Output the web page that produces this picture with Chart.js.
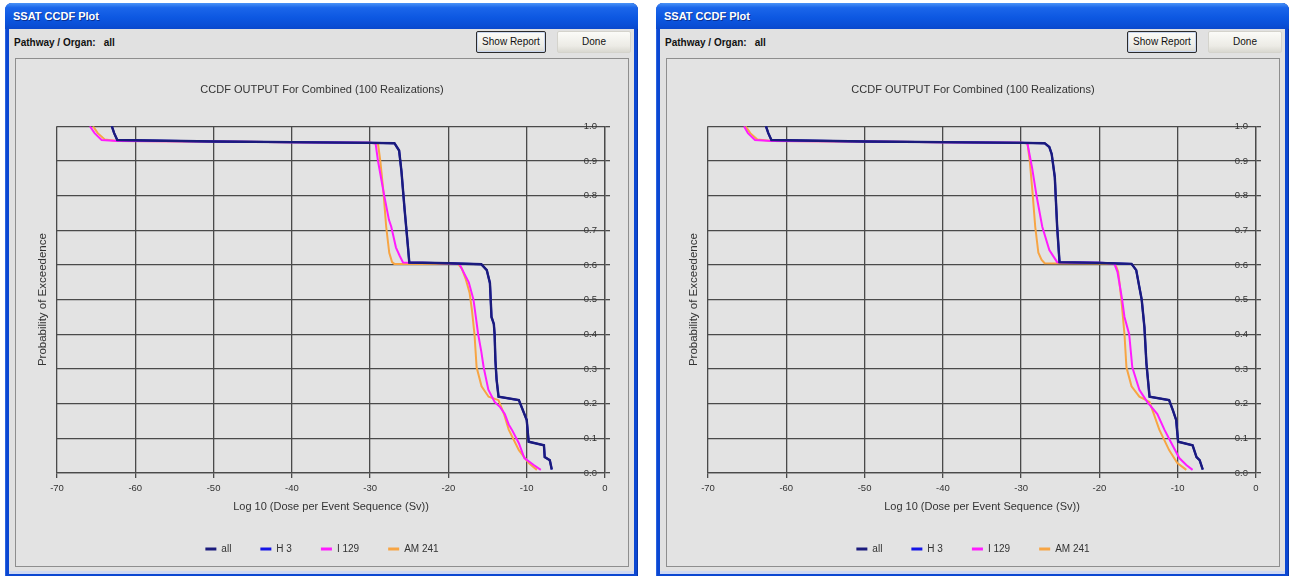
<!DOCTYPE html>
<html>
<head>
<meta charset="utf-8">
<title>SSAT CCDF Plot</title>
<script src="https://cdn.jsdelivr.net/npm/chart.js@4.4.1/dist/chart.umd.min.js"></script>
<style>
  body { margin: 0; background: #fff; width: 1291px; height: 576px; overflow: hidden; position: relative; font-family: "Liberation Sans", Arial, sans-serif; }
  .win { position: absolute; top: 3px; width: 633px; height: 575px; background: #0b47d2; border-radius: 7px 7px 0 0; box-shadow: inset 1px 0 0 #2a64e0, inset -1px 0 0 #0836a8; }
  .bar { position: absolute; left: 0; top: 0; right: 0; height: 26px; border-radius: 7px 7px 0 0;
         background: linear-gradient(#4a93f7, #1b66ea 18%, #0d58e2 55%, #0a4fd6 85%, #0a49cc);
         color: #fff; font: bold 11px "Liberation Sans", Arial, sans-serif; line-height: 26px; padding-left: 8px; text-shadow: 1px 1px 0 #0a2f90; }
  .body { position: absolute; left: 4px; right: 4px; top: 26px; bottom: 4px; background: #e1e1e1; box-shadow: inset 0 -3px 0 #cfd8f2; }
  .org { position: absolute; left: 5px; top: 8px; font: bold 10px "Liberation Sans", Arial, sans-serif; color: #111; }
  .org span { margin-left: 8px; }
  .btn { position: absolute; top: 2px; height: 22px; box-sizing: border-box; font: 10px "Liberation Sans", Arial, sans-serif; color: #111;
         text-align: center; line-height: 20px; border-radius: 2px; background: linear-gradient(#fbfbf8, #ecebe5 70%, #d9d8d0); }
  .btn.report { left: 467px; width: 70px; border: 1px solid #2b2b2b; box-shadow: inset 0 0 0 1px #c9d6ee; }
  .btn.done { left: 548px; width: 74px; border: 1px solid #d4d3cc; }
  .panel { position: absolute; left: 6px; top: 29px; width: 614px; height: 509px; box-sizing: border-box; border: 1px solid #8e8e8e; background: #e3e3e3; }
  .panel canvas { position: absolute; left: 0; top: 0; }
</style>
</head>
<body>

<div class="win" style="left:5px">
  <div class="bar">SSAT CCDF Plot</div>
  <div class="body">
    <div class="org">Pathway / Organ:<span>all</span></div>
    <div class="btn report">Show Report</div>
    <div class="btn done">Done</div>
    <div class="panel"><canvas id="leftChart" width="612" height="507"></canvas></div>
  </div>
</div>

<div class="win" style="left:656px">
  <div class="bar">SSAT CCDF Plot</div>
  <div class="body">
    <div class="org">Pathway / Organ:<span>all</span></div>
    <div class="btn report">Show Report</div>
    <div class="btn done">Done</div>
    <div class="panel"><canvas id="rightChart" width="612" height="507"></canvas></div>
  </div>
</div>

<script>
// series names and tick values
const seriesNames = ["all", "H 3", "I 129", "AM 241"];
const xTickValues = [-70, -60, -50, -40, -30, -20, -10, 0];
const yTickValues = [0, 0.1, 0.2, 0.3, 0.4, 0.5, 0.6, 0.7, 0.8, 0.9, 1.0];

// left window: [log10 dose, probability of exceedence]
const leftAll = [[-63.0,1.0],[-62.7,0.98],[-62.3,0.96],[-50,0.956],[-40,0.954],[-30,0.952],[-26.9,0.951],[-26.3,0.93],[-26.0,0.87],[-25.6,0.76],[-25.2,0.66],[-25.0,0.607],[-20,0.605],[-15.8,0.602],[-15.1,0.585],[-14.7,0.548],[-14.6,0.5],[-14.5,0.45],[-14.2,0.43],[-14.1,0.40],[-14.0,0.325],[-13.85,0.27],[-13.6,0.22],[-11.0,0.21],[-10.0,0.153],[-9.75,0.09],[-7.8,0.08],[-7.7,0.046],[-7.05,0.037],[-6.8,0.01]];
// H 3 sits right under "all" on this plot
const leftH3 = [[-63.0,1.0],[-62.7,0.98],[-62.3,0.96],[-50,0.956],[-40,0.954],[-30,0.952],[-26.9,0.951],[-26.3,0.93],[-26.0,0.87],[-25.6,0.76],[-25.2,0.66],[-25.0,0.607],[-20,0.605],[-15.8,0.602],[-15.1,0.585],[-14.7,0.548],[-14.6,0.5],[-14.5,0.45],[-14.2,0.43],[-14.1,0.40],[-14.0,0.325],[-13.85,0.27],[-13.6,0.22],[-11.0,0.21],[-10.0,0.153],[-9.75,0.09],[-7.8,0.08],[-7.7,0.046],[-7.05,0.037],[-6.8,0.01]];
const leftI129 = [[-65.8,1.0],[-65.2,0.98],[-64.3,0.96],[-62.3,0.957],[-50,0.956],[-40,0.954],[-30,0.952],[-29.3,0.95],[-29.0,0.9],[-28.6,0.85],[-28.2,0.8],[-27.6,0.73],[-27.3,0.71],[-26.7,0.65],[-26.2,0.625],[-25.8,0.607],[-20,0.605],[-18.6,0.603],[-18.2,0.585],[-17.4,0.55],[-16.8,0.5],[-16.5,0.45],[-16.2,0.40],[-15.8,0.35],[-15.5,0.305],[-14.9,0.24],[-14.1,0.205],[-13.4,0.19],[-12.8,0.17],[-12.3,0.14],[-11.9,0.125],[-11.0,0.086],[-10.3,0.043],[-9.1,0.023],[-8.2,0.009]];
const leftAm241 = [[-65.4,1.0],[-64.8,0.98],[-63.9,0.962],[-62.3,0.957],[-50,0.956],[-40,0.954],[-30,0.952],[-29.0,0.95],[-28.7,0.9],[-28.3,0.81],[-27.95,0.71],[-27.56,0.635],[-27.2,0.608],[-26.9,0.603],[-18.8,0.603],[-18.3,0.59],[-17.8,0.56],[-17.3,0.52],[-17.0,0.47],[-16.67,0.40],[-16.4,0.305],[-15.77,0.25],[-14.87,0.22],[-13.6,0.21],[-12.9,0.17],[-12.3,0.125],[-11.0,0.066],[-9.74,0.029],[-8.7,0.009]];

// right window
const rightAll = [[-62.6,1.0],[-62.3,0.98],[-61.9,0.96],[-50,0.956],[-40,0.954],[-30,0.952],[-27.0,0.951],[-26.4,0.94],[-26.1,0.92],[-25.7,0.853],[-25.4,0.71],[-25.1,0.608],[-20,0.606],[-15.9,0.603],[-15.3,0.585],[-14.9,0.536],[-14.6,0.5],[-14.25,0.42],[-14.0,0.317],[-13.6,0.22],[-11.1,0.21],[-10.6,0.18],[-10.2,0.153],[-9.95,0.09],[-8.1,0.08],[-7.6,0.046],[-7.2,0.037],[-6.8,0.01]];
const rightH3 = [[-62.6,1.0],[-62.3,0.98],[-61.9,0.96],[-50,0.956],[-40,0.954],[-30,0.952],[-27.0,0.951],[-26.4,0.94],[-26.1,0.92],[-25.7,0.853],[-25.4,0.71],[-25.1,0.608],[-20,0.606],[-15.9,0.603],[-15.3,0.585],[-14.9,0.536],[-14.6,0.5],[-14.25,0.42],[-14.0,0.317],[-13.6,0.22],[-11.1,0.21],[-10.6,0.18],[-10.2,0.153],[-9.95,0.09],[-8.1,0.08],[-7.6,0.046],[-7.2,0.037],[-6.8,0.01]];
const rightI129 = [[-65.4,1.0],[-64.9,0.98],[-64.0,0.96],[-61.9,0.957],[-50,0.956],[-40,0.954],[-30,0.952],[-29.2,0.951],[-28.6,0.88],[-28.0,0.795],[-27.3,0.71],[-26.4,0.643],[-25.4,0.608],[-20,0.606],[-18.1,0.604],[-17.7,0.58],[-17.45,0.548],[-17.1,0.5],[-16.8,0.45],[-16.2,0.40],[-15.8,0.305],[-14.9,0.24],[-13.9,0.205],[-12.6,0.17],[-11.7,0.125],[-10.8,0.086],[-9.8,0.043],[-8.9,0.023],[-8.1,0.009]];
const rightAm241 = [[-65.2,1.0],[-64.6,0.98],[-63.7,0.962],[-61.9,0.957],[-50,0.956],[-40,0.954],[-30,0.952],[-29.2,0.951],[-28.9,0.9],[-28.55,0.81],[-28.2,0.71],[-27.8,0.635],[-27.4,0.615],[-27.0,0.605],[-18.0,0.604],[-17.6,0.58],[-17.2,0.5],[-16.8,0.40],[-16.55,0.305],[-15.9,0.25],[-14.9,0.22],[-13.6,0.205],[-12.35,0.125],[-11.1,0.066],[-10.05,0.029],[-8.9,0.009]];

const seriesColors = ["#1b1b7c", "#1414e6", "#ff1cff", "#f7a544"];
const FONT = "'Liberation Sans', Arial, sans-serif";

// fixes the legend strip height so the plot box lands where the original sits
const legendHeight = {
    id: "legendHeight",
    beforeInit(chart) {
        const fit = chart.legend.fit;
        chart.legend.fit = function () {
            fit.call(this);
            this.height = 51;
        };
    }
};

function makeChart(id, series) {
    const ctx = document.getElementById(id).getContext("2d");
    return new Chart(ctx, {
        type: "scatter",
        data: {
            datasets: series.map((pts, i) => ({
                label: seriesNames[i],
                data: pts.map(p => ({ x: p[0], y: p[1] })),
                showLine: true,
                borderColor: seriesColors[i],
                backgroundColor: seriesColors[i],
                borderWidth: i == 0 ? 2.4 : 2,
                pointRadius: 0,
                tension: 0,
                fill: false
            }))
        },
        plugins: [legendHeight],
        options: {
            responsive: false,
            animation: false,
            layout: { padding: 0 },
            plugins: {
                tooltip: { enabled: false },
                title: {
                    display: true,
                    text: "CCDF OUTPUT For Combined (100 Realizations)",
                    color: "#333",
                    font: { family: FONT, size: 11, weight: "normal" },
                    padding: { top: 24, bottom: 30 }
                },
                legend: {
                    position: "bottom",
                    labels: {
                        usePointStyle: true,
                        pointStyle: "line",
                        pointStyleWidth: 11,
                        boxHeight: 8,
                        padding: 29,
                        color: "#333",
                        font: { family: FONT, size: 10 },
                        generateLabels(chart) {
                            const items = Chart.defaults.plugins.legend.labels.generateLabels(chart);
                            items.forEach(it => { it.lineWidth = 3; });
                            return items;
                        }
                    }
                }
            },
            scales: {
                x: {
                    type: "linear",
                    min: -70,
                    max: 0,
                    afterBuildTicks: s => { s.ticks = xTickValues.map(v => ({ value: v })); },
                    afterFit: s => { s.height = 42; },
                    ticks: { color: "#333", font: { family: FONT, size: 9.5 }, padding: 5 },
                    grid: { color: "#4a4a4a", lineWidth: 1.3, tickLength: 5, tickColor: "#4a4a4a" },
                    border: { color: "#4a4a4a", width: 1.3 },
                    title: {
                        display: true,
                        text: "Log 10 (Dose per Event Sequence (Sv))",
                        color: "#333",
                        font: { family: FONT, size: 11 },
                        padding: { top: 4, bottom: 1 }
                    }
                },
                y: {
                    position: "right",
                    min: 0,
                    max: 1,
                    afterBuildTicks: s => { s.ticks = yTickValues.map(v => ({ value: v })); },
                    afterFit: s => { s.width = 23; },
                    ticks: {
                        mirror: true,
                        padding: -8,
                        z: -1,
                        color: "#333",
                        font: { family: FONT, size: 9.5 },
                        callback: v => Number(v).toFixed(1)
                    },
                    grid: { color: "#4a4a4a", lineWidth: 1.3, tickLength: 5, tickColor: "#4a4a4a" },
                    border: { color: "#4a4a4a", width: 1.3 }
                },
                yl: {
                    position: "left",
                    min: 0,
                    max: 1,
                    afterFit: s => { s.width = 41; },
                    ticks: { display: false },
                    grid: { display: false },
                    border: { display: false },
                    title: {
                        display: true,
                        text: "Probability of Exceedence",
                        color: "#333",
                        font: { family: FONT, size: 11.5 },
                        padding: { top: 20, bottom: 0 }
                    }
                }
            }
        }
    });
}

makeChart("leftChart", [leftAll, leftH3, leftI129, leftAm241]);
makeChart("rightChart", [rightAll, rightH3, rightI129, rightAm241]);
</script>
</body>
</html>
